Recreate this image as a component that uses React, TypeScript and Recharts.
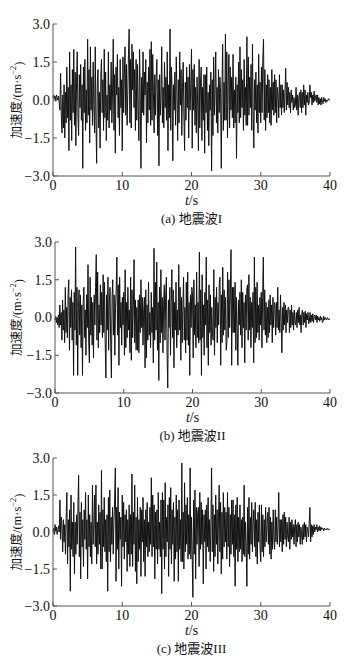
import React from 'react';
import { LineChart, Line, XAxis, YAxis, Label } from 'recharts';

// sample interval of the records, seconds
const STEP = 0.1;
const X_TICKS = [0, 10, 20, 30, 40];
const Y_TICKS = [-3, -1.5, 0, 1.5, 3];

// acceleration, m/s^2, one row per second (10 samples)
const WAVE_1 = [
  0.1, 0.2, 0.05, 0.15, -0.05, 0.2, 0.1, 0.0, 0.15, -0.1,
  -0.4, 1.05, -0.6, -1.3, 0.2, -1.1, 0.6, -1.5, 0.3, -0.9,
  1.3, -0.7, 0.5, -2.0, 1.9, -0.8, 0.6, -1.6, 1.2, -0.5,
  2.0, -1.0, 1.1, -1.8, 0.7, 1.9, -0.6, -1.4, 1.0, -0.3,
  1.4, -0.8, 0.6, -2.7, 1.3, -0.5, 1.6, -1.2, 0.4, -0.9,
  2.4, -0.6, 1.2, -1.7, 2.1, -0.4, 0.9, -1.0, 1.5, -0.2,
  -1.3, 2.1, -0.8, -2.5, 0.7, 1.2, -1.1, 0.3, -1.9, 0.9,
  1.6, -0.5, 0.8, -1.2, 2.0, -0.7, 1.1, -1.6, 0.2, -0.8,
  1.9, -1.1, 0.6, -0.4, 1.5, -0.9, 0.4, 2.4, -1.2, 1.0,
  -2.1, 1.3, 0.2, 1.8, -0.7, 0.5, -1.4, 1.6, -0.3, 0.8,
  -2.0, 1.7, -0.5, 0.9, 2.1, -0.6, 1.4, -1.0, 0.3, 1.8,
  2.8, -0.9, 1.6, -1.1, 2.2, 0.4, 1.9, -0.3, 1.2, -1.2,
  1.6, -0.8, 1.4, -0.2, -1.6, 2.0, 0.1, -2.7, 0.9, -0.5,
  1.9, -0.6, 1.1, 0.2, 1.6, -1.7, 0.7, -0.9, 1.3, -0.4,
  2.0, -1.0, 2.3, -0.8, 1.8, 0.3, -1.3, 1.0, -0.6, 0.9,
  1.6, -1.4, 0.8, -2.6, 1.0, -0.6, 0.2, 2.1, -0.9, 0.5,
  -1.1, 1.5, -0.3, 0.9, -0.8, 1.9, -2.0, 0.6, -0.7, 2.8,
  -1.2, 1.3, 0.4, -2.4, 0.6, -0.4, 1.1, -1.0, 1.7, 0.3,
  -1.6, 0.8, -0.9, 1.9, -0.2, 1.2, -1.4, 0.5, 1.5, -0.6,
  -2.0, 0.7, -0.8, 1.3, -0.3, 0.9, -1.5, 1.4, -0.4, 0.6,
  2.0, -1.9, 1.2, -0.4, 1.4, -1.0, 0.5, -1.3, 0.9, -0.2,
  -2.0, 1.6, -1.1, 0.7, 1.3, -1.6, 0.5, -0.8, 1.0, -2.1,
  1.0, -0.5, 1.3, -1.2, 0.3, -1.8, 0.6, -0.4, 1.1, -2.8,
  0.8, -1.4, 1.7, -0.6, 0.4, 1.9, -0.9, 0.5, -1.3, 1.2,
  -0.5, 0.9, 0.3, -2.7, 0.5, 2.2, -1.2, 0.7, -0.8, 2.6,
  -0.8, 1.9, -1.5, 0.6, 1.8, -1.1, 1.3, -0.4, 0.9, -0.7,
  1.8, -1.1, 0.4, -0.9, 0.9, -2.3, 0.6, -0.5, 1.5, -0.9,
  2.1, -0.7, 1.2, -0.3, 0.8, -1.2, 1.6, -0.6, 0.5, -1.0,
  2.5, -1.0, 1.7, -0.6, 0.9, -0.3, 1.4, -1.2, 2.2, -0.4,
  -1.9, 0.8, -0.4, 1.1, -0.9, 0.6, -1.3, 1.8, -0.5, 0.7,
  -0.9, 1.3, -0.5, 1.6, 2.4, -0.8, 1.2, -1.2, 0.6, -0.7,
  1.0, -0.5, 0.8, -0.9, 0.5, -1.0, 1.2, -0.4, 0.7, -0.6,
  1.0, -0.5, 0.8, -0.9, 0.5, 0.2, -0.7, 1.0, -0.3, 0.6,
  -0.6, 0.6, -0.3, 0.4, -0.5, 0.3, 1.25, -0.4, 0.7, -0.2,
  0.5, -0.3, 0.3, -0.5, 0.4, -0.1, 0.2, -0.4, 0.1, -0.3,
  -0.2, 0.5, -0.4, 0.2, -0.6, 0.1, 0.3, -0.3, 0.4, -0.5,
  0.3, -0.3, 0.6, -0.2, 0.4, -0.6, 0.2, -0.1, 0.3, -0.2,
  -0.1, 0.6, 0.1, 0.3, -0.2, 0.2, -0.1, 0.35, -0.05, 0.1,
  0.2, -0.1, 0.2, -0.2, 0.1, -0.15, 0.05, -0.2, 0.1, -0.1,
  -0.15, 0.1, -0.05, 0.05, -0.1, 0.0, -0.05, 0.0, 0.05, 0.0,
  0.0,
];

const WAVE_2 = [
  -0.1, 0.05, -0.2, 0.0, -0.3, 0.1, -0.4, 0.5, -0.3, 0.2,
  -0.9, 0.7, -0.5, 0.3, -1.0, 1.2, -0.6, 0.4, -0.8, 0.9,
  1.5, -1.3, 0.8, -0.4, 1.1, -0.9, 0.6, -2.3, 1.0, -0.5,
  2.8, -1.1, 1.2, -2.3, 0.4, 1.1, -0.7, 0.9, -1.2, 0.5,
  -2.3, 0.6, 1.2, -0.8, 0.3, -1.5, 0.9, -0.4, 2.1, -0.9,
  -1.8, 1.6, -0.7, 0.8, -1.1, 0.6, -1.6, 0.9, -0.3, 1.2,
  2.5, -0.9, 1.8, -1.2, 0.5, -0.6, 1.3, -0.3, 1.0, -0.8,
  1.7, -0.6, 1.4, -1.0, -2.4, 0.9, -0.5, 1.6, -1.3, 0.6,
  1.2, -1.0, -2.4, 0.8, 1.5, -0.7, 0.9, -1.5, 0.4, 1.1,
  2.4, -0.7, 1.3, -1.9, 1.6, -0.4, 0.6, -1.1, 0.8, -0.3,
  1.0, -1.5, 1.9, -1.2, 0.6, -0.8, 1.2, -0.5, 0.3, -1.4,
  1.6, -1.7, 1.1, -0.8, 0.5, 2.3, -1.0, 0.7, -1.3, 0.4,
  -1.3, 0.7, -1.4, 0.9, -0.6, 1.5, -0.4, 0.8, -1.1, 0.3,
  0.8, -2.0, 1.1, -1.6, 0.5, -0.9, 1.4, -0.7, 0.2, -1.2,
  1.0, -0.6, 0.4, -1.8, 2.75, -0.9, 1.4, -0.5, 2.2, -1.3,
  0.6, -2.5, 1.2, -1.0, 1.9, -0.6, 0.8, -1.4, 0.5, 1.3,
  -0.9, 0.9, 1.6, -1.4, -2.8, 0.7, -0.4, 1.2, -1.5, 0.5,
  1.9, -0.8, 1.1, -2.0, 0.6, -0.5, 1.4, -1.2, 0.3, -0.7,
  2.1, -0.5, 1.2, -1.7, 0.8, -1.0, 0.5, 1.6, -0.9, 0.4,
  -1.4, 1.4, -0.9, 1.8, -1.1, 0.6, -2.3, 0.9, -0.4, 1.2,
  0.9, -1.6, 1.5, -0.7, 0.5, -1.2, 1.8, -0.8, 0.6, -1.0,
  2.6, -0.9, 1.1, -2.3, 1.7, -0.8, 0.5, -1.5, 1.0, -0.3,
  2.4, -1.2, 0.7, -1.9, 1.3, -0.6, 0.9, -1.1, 0.4, -0.7,
  -0.9, 1.9, -1.5, 0.8, -0.4, 1.2, -1.0, 0.6, -0.3, 1.4,
  1.6, -1.9, 0.9, -1.0, 2.0, -0.7, 1.1, -0.5, 0.8, -1.3,
  -1.0, 1.8, -0.8, 1.5, -0.4, 0.9, 2.7, -1.9, 1.2, -0.6,
  1.2, -0.6, 1.4, -1.3, 0.8, -0.5, -1.9, 0.7, -0.3, 1.0,
  -0.7, 1.5, -1.2, 1.0, -0.4, 0.6, -1.8, 0.9, -0.5, 1.1,
  1.3, -0.9, 1.7, -0.5, 0.8, -1.2, 0.6, -0.4, 1.0, -1.8,
  2.4, -1.0, 1.2, -0.8, 1.4, -0.6, 0.5, -0.9, 0.8, -0.3,
  1.0, -1.2, 0.8, 2.4, -0.5, 1.1, -0.7, 0.6, -1.0, 0.4,
  -0.8, 0.7, -0.6, 0.9, -0.3, 0.5, -1.0, 0.8, -0.4, 0.6,
  0.5, -0.7, 0.6, -0.4, 1.2, -0.5, 0.3, -0.6, 0.9, -0.2,
  -1.4, 0.4, -0.5, 0.6, -0.3, 0.5, -0.6, 0.3, -0.2, 0.4,
  0.4, -0.6, 0.3, -0.4, 0.5, -0.3, 0.2, -0.5, 0.3, -0.2,
  -0.3, 0.2, -0.4, 0.3, -0.2, 0.4, -0.3, 0.1, -0.6, 0.2,
  0.3, -0.3, 0.2, -0.2, 0.25, -0.4, 0.15, -0.1, 0.2, -0.25,
  -0.15, 0.2, -0.2, 0.1, -0.15, 0.15, -0.2, 0.05, 0.1, -0.1,
  0.1, -0.2, 0.05, -0.1, 0.0, -0.15, 0.05, -0.1, 0.0, -0.2,
  -0.15, 0.05, -0.1, 0.0, -0.05, -0.1, 0.0, -0.05, -0.1, -0.05,
  -0.05,
];

const WAVE_3 = [
  0.05, 0.15, -0.1, 0.3, 0.05, 0.2, -0.1, 0.1, 0.25, 0.0,
  1.3, -0.3, 0.6, 0.2, -0.8, 0.5, -0.4, 0.3, -0.9, 0.6,
  1.6, -1.3, 0.5, -0.6, 0.9, -2.4, 1.5, -0.7, 0.4, -1.0,
  1.2, -1.7, 0.4, -0.9, 0.7, -0.5, 1.0, 2.3, -1.0, 0.8,
  -1.9, 1.2, -0.6, 0.5, -1.4, 0.9, -0.3, 1.6, -0.7, 0.5,
  -1.9, 1.5, -0.6, 0.7, -1.0, 0.4, -1.3, 1.9, -0.5, 0.3,
  1.5, -0.6, 1.9, -1.3, 0.4, -0.9, 1.1, -0.5, 0.8, -1.5,
  2.5, -1.5, 0.9, -0.6, 1.4, -0.8, 0.5, -1.2, 0.7, -2.4,
  1.4, -0.8, 1.7, -1.2, 0.6, -0.5, 1.0, -0.9, 0.4, 1.3,
  2.6, -2.0, 1.0, -0.7, 1.8, -1.5, 0.8, -0.3, 0.6, -2.2,
  1.5, -0.6, 1.2, -1.1, 0.7, -0.4, 0.9, -1.6, 0.5, -0.9,
  1.1, -1.4, 0.7, -0.9, 2.35, -1.4, 0.8, -0.5, 1.9, -1.6,
  0.6, -2.1, 1.4, -1.2, 0.5, -0.7, 1.0, -1.8, 0.9, -0.4,
  1.4, -1.2, 0.5, -1.8, 0.9, -0.6, 1.2, -1.0, 0.4, -0.8,
  1.0, -0.5, 2.2, -1.0, 1.5, -0.6, 1.1, -1.9, 0.8, -0.7,
  0.9, -1.3, 1.6, -0.7, 0.4, -1.0, 1.3, -2.5, 1.6, -0.7,
  1.3, -1.5, 2.0, -1.0, 0.6, -0.4, 1.1, -1.8, 1.4, -0.7,
  1.8, -1.3, 0.9, -0.5, 1.2, -2.0, 0.6, -1.1, 1.5, -0.8,
  0.9, -2.0, 1.3, -0.7, 0.5, -1.2, 2.8, -1.2, 0.8, -1.5,
  2.0, -0.8, 1.1, -0.5, 1.4, -1.1, 0.7, -0.9, 2.6, -1.1,
  0.6, -0.9, -2.65, 1.3, -0.9, 1.7, -1.9, 1.0, -0.5, 0.8,
  1.0, -1.4, 1.6, -0.7, 1.2, -0.5, 0.9, -2.1, 0.7, -0.4,
  0.9, -1.5, 1.1, -0.6, 1.4, -0.8, 0.5, -1.2, 0.3, 2.6,
  -0.8, 1.1, -1.6, 0.7, -1.0, 1.5, -0.5, 0.9, -1.3, 0.6,
  1.9, -0.8, 1.2, -1.7, 0.8, -1.1, 1.6, -0.6, 1.0, -0.4,
  0.8, -1.1, 1.6, -0.6, 1.0, -1.4, 0.7, -0.9, 1.3, -0.5,
  1.3, -1.0, 0.7, -2.2, 1.1, -0.7, 1.4, -1.2, 0.6, -0.8,
  1.1, -0.7, 0.5, -1.2, 0.6, -0.9, 1.9, -1.0, 0.4, -0.6,
  -2.2, 1.0, -0.9, 1.4, -1.1, 0.6, -0.5, 1.2, -0.8, 0.4,
  0.9, -0.6, 1.2, -1.0, 0.5, -1.3, 0.8, -0.4, 1.1, -0.7,
  -1.2, 1.1, -0.8, 0.7, -1.0, 0.5, -0.6, 1.0, -0.4, 0.3,
  0.8, -0.5, 1.0, -0.9, 0.6, -1.1, 0.4, -0.7, 0.9, -0.3,
  -0.7, 0.9, -0.4, 0.6, -0.5, 0.3, 1.6, -0.6, 0.5, -0.4,
  0.5, -0.8, 0.7, -0.5, 0.8, -0.3, 0.6, -0.6, 0.4, -0.2,
  -0.4, 0.6, -0.7, 0.4, -0.3, 0.5, -0.2, 0.3, -0.5, 0.2,
  0.5, -0.6, 0.3, -0.4, 0.4, -0.2, 0.3, -0.5, 0.2, -0.1,
  -0.5, 0.3, -0.3, 0.4, -0.2, 0.3, -0.4, 0.2, 0.1, -0.2,
  0.4, 1.0, -0.4, 0.3, -0.2, 0.25, -0.1, 0.3, 0.0, 0.2,
  0.1, 0.3, 0.0, 0.2, 0.05, 0.25, 0.05, 0.2, 0.1, 0.15,
  0.15, 0.05, 0.15, 0.1, 0.12, 0.08, 0.15, 0.1, 0.12, 0.1,
  0.1,
];

const FONT = "'Liberation Serif', 'Noto Sans CJK SC', serif";
const INK = '#111';
const AXIS = '#555';

const fmtY = (v: number) => (v < 0 ? '\u2212' + Math.abs(v).toFixed(1) : v.toFixed(1));

const XTick = (props: any) => {
  const { x, y, payload } = props;
  return (
    <g>
      <line x1={x} y1={y} x2={x} y2={y - 4} stroke={AXIS} strokeWidth={1} />
      <text x={x} y={y + 14} textAnchor="middle" fontSize={14} fontFamily={FONT} fill={INK}>
        {payload.value}
      </text>
    </g>
  );
};

const YTick = (props: any) => {
  const { x, y, payload } = props;
  return (
    <g>
      <line x1={x} y1={y} x2={x + 4} y2={y} stroke={AXIS} strokeWidth={1} />
      <text x={x - 3} y={y} dy="0.35em" textAnchor="end" fontSize={14} fontFamily={FONT} fill={INK}>
        {fmtY(payload.value)}
      </text>
    </g>
  );
};

const Panel = ({ values, top, marginTop, plotH, plotLeft, caption }: any) => {
  const data = values.map((a: number, i: number) => ({ t: +(i * STEP).toFixed(1), a }));
  const xAxisH = 50;
  const height = marginTop + plotH + xAxisH;
  const plotRight = 330;
  return (
    <div style={{ position: 'absolute', left: 0, top, width: 352, height }}>
      <LineChart
        width={352}
        height={height}
        data={data}
        margin={{ top: marginTop, right: 352 - plotRight, bottom: 0, left: 0 }}
      >
        <XAxis
          dataKey="t"
          type="number"
          domain={[0, 40]}
          ticks={X_TICKS}
          height={xAxisH}
          tickSize={0}
          tickMargin={0}
          tickLine={false}
          tick={<XTick />}
          stroke={AXIS}
          interval={0}
        >
          <Label
            content={(p: any) => {
              const vb = p.viewBox;
              const cx = vb.x + vb.width / 2;
              return (
                <g>
                  <text x={cx} y={vb.y + 29} textAnchor="middle" fontSize={14} fontFamily={FONT} fill={INK}>
                    <tspan fontStyle="italic">t</tspan>/s
                  </text>
                  <text x={cx} y={vb.y + 47} textAnchor="middle" fontSize={13} fontFamily={FONT} fill={INK}>
                    {caption}
                  </text>
                </g>
              );
            }}
          />
        </XAxis>
        <YAxis
          type="number"
          domain={[-3, 3]}
          ticks={Y_TICKS}
          width={plotLeft}
          tickSize={0}
          tickMargin={0}
          tickLine={false}
          tick={<YTick />}
          stroke={AXIS}
          interval={0}
        >
          <Label
            content={(p: any) => {
              const vb = p.viewBox;
              const cy = vb.y + vb.height / 2;
              return (
                <text
                  x={17}
                  y={cy}
                  transform={`rotate(-90 17 ${cy})`}
                  textAnchor="middle"
                  dominantBaseline="central"
                  fontSize={12.5}
                  fontFamily={FONT}
                  fill={INK}
                >
                  加速度/(m·s
                  <tspan dy="-0.45em" fontSize={8.5}>−2</tspan>
                  <tspan dy="0.45em">)</tspan>
                </text>
              );
            }}
          />
        </YAxis>
        <Line
          type="linear"
          dataKey="a"
          stroke={INK}
          strokeWidth={1}
          dot={false}
          isAnimationActive={false}
        />
      </LineChart>
    </div>
  );
};

export default function App() {
  return (
    <div style={{ position: 'absolute', left: 0, top: 0, width: 352, height: 660, background: '#fff' }}>
      <Panel values={WAVE_1} top={0} marginTop={24} plotH={152} plotLeft={53} caption="(a) 地震波I" />
      <Panel values={WAVE_2} top={220} marginTop={22} plotH={151} plotLeft={55} caption="(b) 地震波II" />
      <Panel values={WAVE_3} top={436} marginTop={22} plotH={148} plotLeft={53} caption="(c) 地震波III" />
    </div>
  );
}
